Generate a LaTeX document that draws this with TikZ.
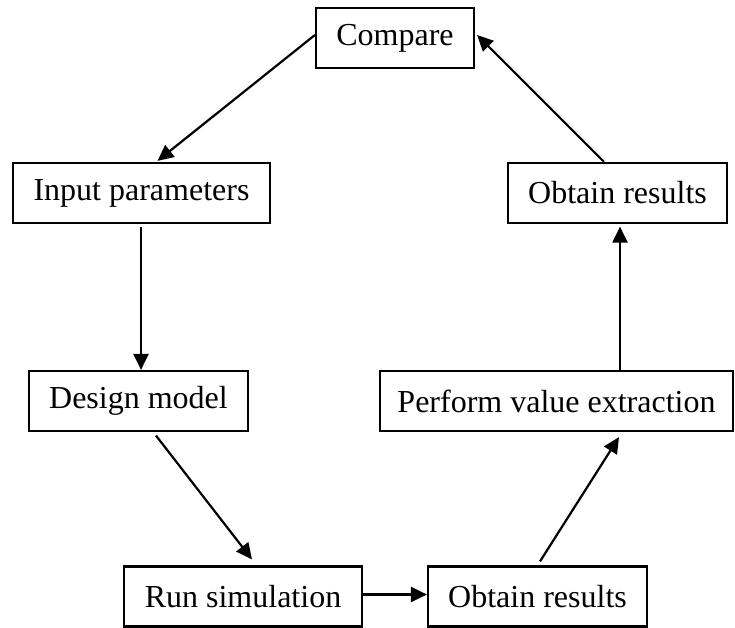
\documentclass[tikz,border=0pt]{standalone}
\usepackage{fontspec}
\setmainfont{Liberation Serif}
\usetikzlibrary{arrows.meta,calc}
\begin{document}
\begin{tikzpicture}[x=1pt,y=-1pt,
  box/.style={draw=black,line width=2.2pt,inner sep=0pt,minimum height=60pt,
    font=\fontsize{32}{38}\selectfont,text=black},
  conn/.style={line width=2.2pt,-{Triangle[length=16pt,width=15pt]}}]
\useasboundingbox (0,0) rectangle (735,628);
\node[box,minimum width=158pt] (cmp) at (395,38) {Compare};
\node[box,minimum width=257pt] (inp) at (141.5,193) {Input parameters};
\node[box,minimum width=219pt] (obt) at (617.5,193) {Obtain results};
\node[box,minimum width=219pt] (dm) at (138.5,401) {Design model};
\node[box,minimum width=353pt] (pve) at (556.5,401) {Perform value extraction};
\node[box,minimum width=238pt] (run) at (243,596.5) {Run simulation};
\node[box,minimum width=219pt] (obb) at (537.5,596.5) {Obtain results};
% connectors
\draw[conn] ($(cmp.west)+(0,-3)$) -- ($(inp.north)+(16,-1)$);
\draw[conn] ($(inp.south)+(-0.5,3)$) -- ($(dm.north)+(2.5,0)$);
\draw[conn] ($(dm.south)+(17.5,3.5)$) -- ($(run.north)+(9,-6)$);
\draw[conn] ($(run.east)+(0,-2)$) -- ($(obb.west)+(0,-2)$);
\draw[conn] ($(obb.north)+(2.5,-4)$) -- ($(pve.south)+(62.5,5)$);
\draw[conn] ($(pve.north)+(63.5,0)$) -- ($(obt.south)+(2.5,2.5)$);
\draw[conn] ($(obt.north)+(-13.5,0)$) -- ($(cmp.east)+(2,-3)$);
\end{tikzpicture}
\end{document}
